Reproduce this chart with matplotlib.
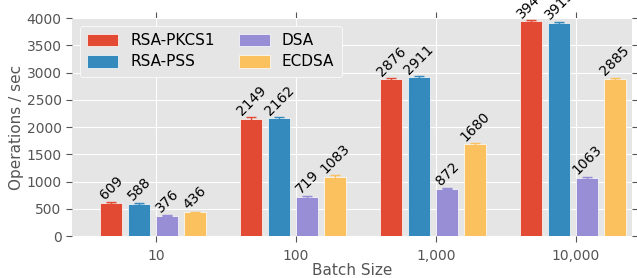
import matplotlib
matplotlib.use('Agg')
import matplotlib.pyplot as plt
import numpy as np

plt.style.use('ggplot')

# batch sizes and operations per second for each scheme
batches = ["10", "100", "1,000", "10,000"]
schemes = ["RSA-PKCS1", "RSA-PSS", "DSA", "ECDSA"]
rsa_pkcs1 = [609, 2149, 2876, 3940]
rsa_pss = [588, 2162, 2911, 3913]
dsa = [376, 719, 872, 1063]
ecdsa = [436, 1083, 1680, 2885]
# rough spread (error bars)
rsa_pkcs1_err = [15, 35, 30, 20]
rsa_pss_err = [15, 25, 30, 15]
dsa_err = [10, 20, 15, 20]
ecdsa_err = [12, 40, 25, 20]

series = [rsa_pkcs1, rsa_pss, dsa, ecdsa]
errors = [rsa_pkcs1_err, rsa_pss_err, dsa_err, ecdsa_err]
colors = ['#E24A33', '#348ABD', '#988ED5', '#FBC15E']

fig = plt.figure(figsize=(6.37, 2.78), dpi=100)
ax = fig.add_axes([0.113, 0.151, 0.879, 0.784])

x = np.arange(len(batches))
pitch = 0.2
width = 0.16
for i, (vals, errs) in enumerate(zip(series, errors)):
    left = x - 0.4 + i * pitch
    ax.bar(left, vals, width, align='edge', color=colors[i], label=schemes[i],
           edgecolor='white', linewidth=0.5,
           yerr=errs, ecolor=colors[i], capsize=3.5,
           error_kw={'elinewidth': 1, 'capthick': 1})
    for xx, v in zip(left + width / 2, vals):
        ax.annotate(str(v), (xx, v + 10), ha='center', va='bottom',
                    rotation=45, fontsize=10, annotation_clip=False)

ax.set_xlim(-0.6, 3.4)
ax.set_ylim(0, 4000)
ax.set_yticks(np.arange(0, 4001, 500))
ax.set_xticks(x)
ax.set_xticklabels(batches)
ax.tick_params(axis='both', labelsize=10, colors='#555555', direction='out',
               top=True, right=True, length=4)
ax.tick_params(axis='x', pad=5)
ax.set_xlabel('Batch Size', fontsize=11, color='#555555', labelpad=0)
ax.set_ylabel('Operations / sec', fontsize=11, color='#555555', labelpad=2)
for s in ax.spines.values():
    s.set_visible(False)

leg = ax.legend(loc='upper left', ncol=2, fontsize=11, frameon=True,
                facecolor='#E5E5E5', edgecolor='white', framealpha=1,
                handlelength=2.0, handleheight=0.9, columnspacing=1.6,
                borderpad=0.5, labelspacing=0.4)
for t in leg.get_texts():
    t.set_color('black')

fig.savefig('out.png', dpi=100)
